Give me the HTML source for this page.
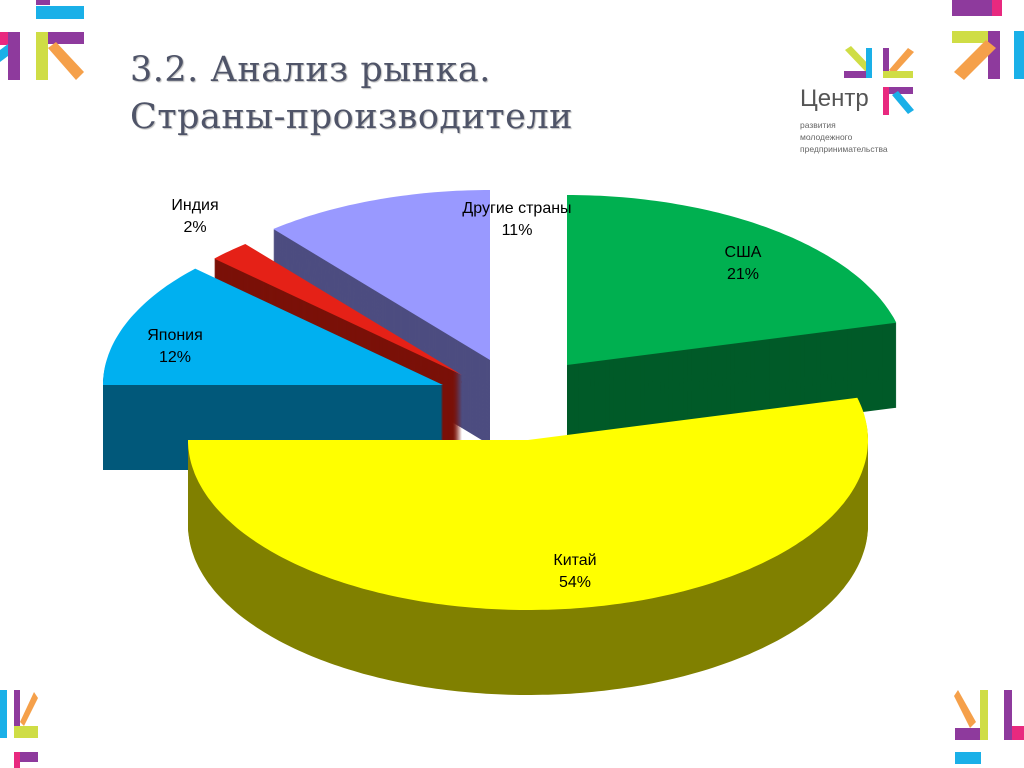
<!DOCTYPE html>
<html><head><meta charset="utf-8">
<style>
body{margin:0;background:#fff;}
#wrap{position:relative;width:1024px;height:768px;overflow:hidden;background:#fff;font-family:"Liberation Sans",sans-serif;}
.title{position:absolute;left:130px;font-family:"DejaVu Serif","Liberation Serif",serif;font-size:35px;letter-spacing:0.5px;color:#4f5468;text-shadow:1px 1px 1px #bbb;white-space:nowrap;}
</style></head>
<body>
<div id="wrap">
<div class="title" style="top:50px">3.2. Анализ рынка.</div>
<div class="title" style="top:97px">Страны-производители</div>

<svg width="1024" height="768" style="position:absolute;left:0;top:0">
  <g>
    <rect x="36" y="0" width="14" height="5" fill="#8e3a9d"/>
    <rect x="36" y="6" width="48" height="13" fill="#1ab0e8"/>
    <rect x="0" y="32" width="18" height="13" fill="#e8297f"/>
    <rect x="8" y="32" width="12" height="48" fill="#8e3a9d"/>
    <polygon points="0,50 8,44 8,56 0,62" fill="#1ab0e8"/>
    <rect x="36" y="32" width="12" height="48" fill="#cfdd45"/>
    <rect x="48" y="32" width="36" height="12" fill="#8e3a9d"/>
    <polygon points="48,48 56,42 84,72 76,80" fill="#f5a04a"/>
  </g>
  <g>
    <rect x="952" y="0" width="40" height="16" fill="#8e3a9d"/>
    <rect x="992" y="0" width="10" height="16" fill="#e8297f"/>
    <rect x="952" y="31" width="48" height="12" fill="#cfdd45"/>
    <rect x="988" y="31" width="12" height="48" fill="#8e3a9d"/>
    <polygon points="986,40 996,48 964,80 954,72" fill="#f5a04a"/>
    <rect x="1014" y="31" width="10" height="48" fill="#1ab0e8"/>
  </g>
  <g>
    <rect x="0" y="690" width="7" height="48" fill="#1ab0e8"/>
    <rect x="14" y="690" width="6" height="36" fill="#8e3a9d"/>
    <polygon points="20,722 34,692 38,698 24,726" fill="#f5a04a"/>
    <rect x="14" y="726" width="24" height="12" fill="#cfdd45"/>
    <rect x="14" y="752" width="6" height="16" fill="#e8297f"/>
    <rect x="20" y="752" width="18" height="10" fill="#8e3a9d"/>
  </g>
  <g>
    <polygon points="958,690 976,722 970,728 954,696" fill="#f5a04a"/>
    <rect x="980" y="690" width="8" height="50" fill="#cfdd45"/>
    <rect x="955" y="728" width="25" height="12" fill="#8e3a9d"/>
    <rect x="1004" y="690" width="8" height="50" fill="#8e3a9d"/>
    <rect x="1012" y="726" width="12" height="14" fill="#e8297f"/>
    <rect x="955" y="752" width="26" height="12" fill="#1ab0e8"/>
  </g>
  <g>
    <polygon points="845,50 851,46 872,68 866,72" fill="#cfdd45"/>
    <rect x="844" y="71" width="28" height="7" fill="#8e3a9d"/>
    <rect x="866" y="48" width="6" height="30" fill="#1ab0e8"/>
    <rect x="883" y="48" width="6" height="25" fill="#8e3a9d"/>
    <polygon points="889,70 908,48 914,52 894,74" fill="#f5a04a"/>
    <rect x="883" y="71" width="30" height="7" fill="#cfdd45"/>
    <rect x="883" y="87" width="6" height="28" fill="#e8297f"/>
    <rect x="889" y="87" width="24" height="7" fill="#8e3a9d"/>
    <polygon points="892,95 898,91 914,110 908,114" fill="#1ab0e8"/>
  </g>
  <text x="800" y="106" font-family="Liberation Sans, sans-serif" font-size="24" fill="#555">Центр</text>
  <text x="800" y="128" font-family="Liberation Sans, sans-serif" font-size="8.5" fill="#666">развития</text>
  <text x="800" y="140" font-family="Liberation Sans, sans-serif" font-size="8.5" fill="#666">молодежного</text>
  <text x="800" y="152" font-family="Liberation Sans, sans-serif" font-size="8.5" fill="#666">предпринимательства</text>
</svg>

<svg id="pie" width="1024" height="768" style="position:absolute;left:0;top:0"></svg>
</div>
<script>
const categories = ["США", "Китай", "Япония", "Индия", "Другие страны"];
const values = [21, 54, 12, 2, 11];
const valueLabels = ["21%", "54%", "12%", "2%", "11%"];

const topColors = ["#00b050", "#ffff00", "#00b0f0", "#e52117", "#9999ff"];
const sideColors = ["#005a28", "#808000", "#01587a", "#7a1108", "#4d4d80"];
const explode = [[47,-15],[8,60],[-77,5],[-58,-5],[-30,-20]];
const labelPos = [[743,257],[575,565],[175,340],[195,210],[517,213]];
const drawOrder = [4,3,2,0,1];

const CX = 520, CY = 380, RX = 340, RY = 170, DEPTH = 85;
const NS = "http://www.w3.org/2000/svg";
const svg = document.getElementById("pie");
const total = values.reduce((a,b)=>a+b,0);

const angles = [];
let acc = 0;
values.forEach(v => { const s = acc/total*2*Math.PI; acc += v; angles.push([s, acc/total*2*Math.PI]); });

function pt(cx, cy, t){ return [cx + RX*Math.sin(t), cy - RY*Math.cos(t)]; }
function slicePath(i, dy){
  const cx = CX + explode[i][0], cy = CY + explode[i][1] + dy;
  const [s,e] = angles[i];
  let d = "M" + cx + "," + cy;
  const n = Math.max(4, Math.ceil((e-s)*60));
  for(let k=0;k<=n;k++){ const p = pt(cx, cy, s + (e-s)*k/n); d += " L" + p[0].toFixed(1) + "," + p[1].toFixed(1); }
  return d + " Z";
}

drawOrder.forEach(i => {
  const g = document.createElementNS(NS, "g");
  
  
  for(let dy = DEPTH; dy > 0; dy -= 1){
    const p = document.createElementNS(NS, "path");
    p.setAttribute("d", slicePath(i, dy));
    p.setAttribute("fill", sideColors[i]);
    
    
    g.appendChild(p);
  }
  const top = document.createElementNS(NS, "path");
  top.setAttribute("d", slicePath(i, 0));
  top.setAttribute("fill", topColors[i]);
  
  
  g.appendChild(top);
  svg.appendChild(g);
});

categories.forEach((c, i) => {
  const [x, y] = labelPos[i];
  [c, valueLabels[i]].forEach((txt, j) => {
    const t = document.createElementNS(NS, "text");
    t.setAttribute("x", x); t.setAttribute("y", y + j*22);
    t.setAttribute("text-anchor", "middle");
    t.setAttribute("font-family", "Liberation Sans, sans-serif");
    t.setAttribute("font-size", "16");
    t.setAttribute("fill", "#000");
    
    
    t.textContent = txt;
    svg.appendChild(t);
  });
});
</script>
</body></html>
